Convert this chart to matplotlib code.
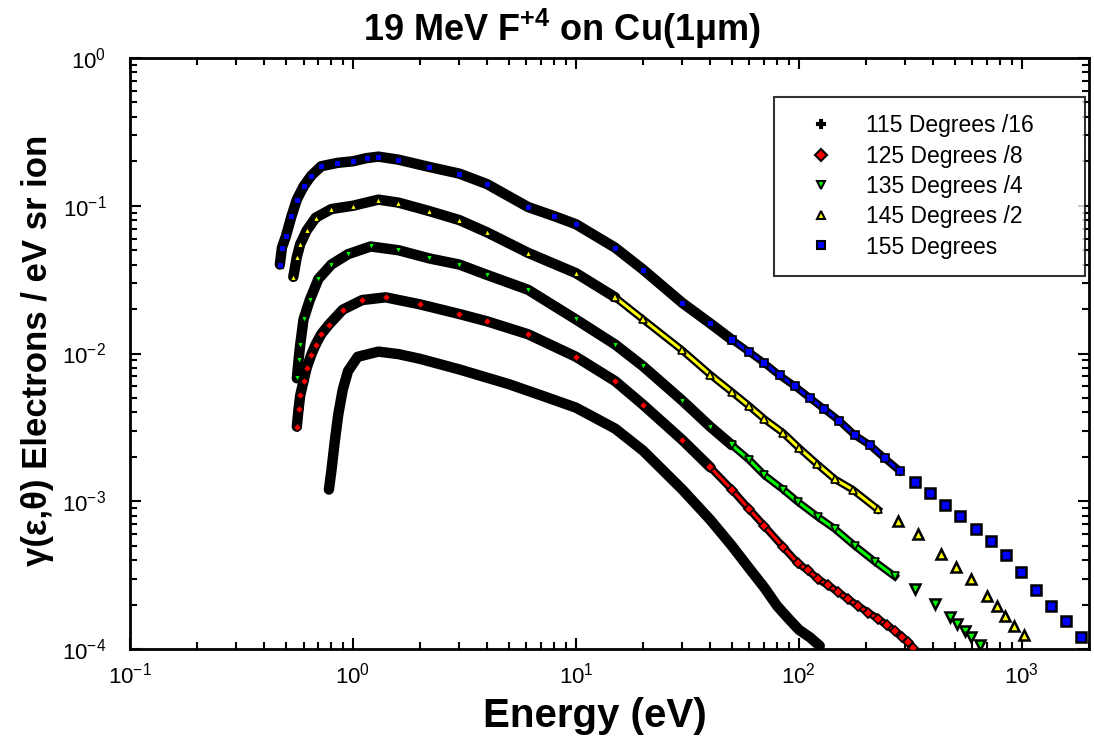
import numpy as np
import matplotlib
matplotlib.use("Agg")
import matplotlib.pyplot as plt
from matplotlib.lines import Line2D
from matplotlib.ticker import LogLocator, NullFormatter

plt.rcParams["font.family"] = ["Liberation Sans", "DejaVu Sans"]
plt.rcParams["mathtext.fontset"] = "custom"
plt.rcParams["mathtext.rm"] = "Liberation Sans"
plt.rcParams["mathtext.bf"] = "Liberation Sans:bold"
plt.rcParams["axes.unicode_minus"] = False

# --- data (energy in eV, yield) ---
labels = ["115 Degrees /16", "125 Degrees /8", "135 Degrees /4",
          "145 Degrees /2", "155 Degrees"]

e_115 = [0.78, 0.80, 0.83, 0.86, 0.90, 0.95, 1.05, 1.3, 1.6, 2.0, 3.0, 5.0, 7.0,
         10, 15, 20, 30, 40, 50, 60, 70, 80, 90, 100, 112, 124]
y_115 = [0.0012, 0.0016, 0.0026, 0.0039, 0.0057, 0.0076, 0.0095, 0.0103, 0.0099,
         0.0092, 0.0078, 0.0062, 0.0052, 0.0043, 0.0031, 0.0022, 0.0012, 0.00075,
         0.0005, 0.00035, 0.00026, 0.000195, 0.00016, 0.000135, 0.00012, 0.000105]

e_125 = [0.56, 0.57, 0.58, 0.60, 0.62, 0.65, 0.68, 0.72, 0.78, 0.90, 1.1, 1.4, 2.0,
         3.0, 4.0, 6.1, 10, 15, 20, 30, 40, 50, 60, 70, 85, 99, 110, 122, 135, 150,
         166, 185, 205, 227, 248, 271, 290, 309, 324]
y_125 = [0.0032, 0.0042, 0.0052, 0.0065, 0.0080, 0.0098, 0.0115, 0.0135, 0.0157,
         0.0198, 0.023, 0.024, 0.0215, 0.0185, 0.0165, 0.0135, 0.0095, 0.0065,
         0.0045, 0.0026, 0.0017, 0.0012, 0.00088, 0.00068, 0.00049, 0.00038,
         0.00034, 0.000297, 0.00027, 0.000243, 0.000218, 0.000195, 0.000176, 0.00016,
         0.000145, 0.000132, 0.000121, 0.000111, 0.000102]

e_135 = [0.56, 0.57, 0.58, 0.60, 0.64, 0.70, 0.80, 0.95, 1.2, 1.6, 2.2, 3.0, 4.0,
         6.1, 10, 15, 20, 30, 40, 50, 60, 70, 85, 99, 122, 145, 178, 219, 269, 330,
         406, 474, 514, 553, 589, 652]
y_135 = [0.0068, 0.009, 0.0115, 0.017, 0.023, 0.032, 0.040, 0.047, 0.053, 0.050,
         0.044, 0.040, 0.034, 0.027, 0.017, 0.0115, 0.0082, 0.0048, 0.0032, 0.0024,
         0.0019, 0.0015, 0.0012, 0.00099, 0.00078, 0.00065, 0.0005, 0.00039,
         0.00031, 0.000254, 0.000201, 0.000164, 0.000147, 0.000132, 0.00012,
         0.000106]

e_145 = [0.54, 0.56, 0.58, 0.62, 0.68, 0.80, 1.0, 1.3, 1.6, 2.2, 3.0, 4.0, 6.1, 10,
         15, 20, 30, 40, 50, 60, 70, 85, 100, 120, 145, 174, 226, 277, 341, 432, 504,
         589, 701, 777, 844, 925, 1026]
y_145 = [0.033, 0.045, 0.055, 0.068, 0.083, 0.095, 0.10, 0.11, 0.105, 0.092, 0.080,
         0.066, 0.048, 0.035, 0.024, 0.017, 0.0105, 0.0072, 0.0055, 0.0044, 0.0036,
         0.0029, 0.0023, 0.0018, 0.00141, 0.0012, 0.00088, 0.00073, 0.0006, 0.00044,
         0.00036, 0.000297, 0.000228, 0.000195, 0.000167, 0.000143, 0.000124]

e_155 = [0.47, 0.48, 0.50, 0.53, 0.56, 0.60, 0.65, 0.72, 0.85, 1.0, 1.15, 1.3, 1.6,
         2.2, 3.0, 4.0, 6.1, 8.0, 10, 15, 20, 30, 40, 50, 60, 70, 82, 96, 112, 130,
         152, 178, 208, 243, 284, 332, 388, 453, 530, 620, 725, 847, 990, 1160, 1350,
         1580, 1850]
y_155 = [0.040, 0.052, 0.062, 0.085, 0.11, 0.135, 0.16, 0.185, 0.195, 0.20, 0.21,
         0.215, 0.205, 0.183, 0.165, 0.14, 0.098, 0.085, 0.075, 0.052, 0.037, 0.022,
         0.016, 0.0124, 0.0102, 0.0086, 0.0071, 0.006, 0.005, 0.0042, 0.0035, 0.0028,
         0.0024, 0.00195, 0.0016, 0.00136, 0.00113, 0.00095, 0.00079, 0.00065,
         0.00054, 0.00043, 0.00033, 0.00025, 0.000195, 0.000155, 0.00012]

series = [(e_115, y_115), (e_125, y_125), (e_135, y_135), (e_145, y_145), (e_155, y_155)]
colors = ["#000000", "#ff0000", "#00ff00", "#ffff00", "#0000ff"]
markers = ["P", "D", "v", "^", "s"]
# energies where the thick black band turns into a coloured chain,
# and where the chain breaks up into separate markers
band_end = [124, 40, 50, 15, 50]
chain_end = [124, 330, 280, 226, 290]

W, H = 1094, 751
fig = plt.figure(figsize=(W / 100, H / 100), dpi=100)
ax = fig.add_axes([130 / W, 1 - 649 / H, (1089 - 130) / W, (649 - 58) / H])

for (e, y), c, m, b_end, c_end in zip(series, colors, markers, band_end, chain_end):
    e = np.asarray(e)
    y = np.asarray(y)
    band = e <= b_end
    chain = (e >= b_end) & (e <= c_end)
    tail = e > c_end
    ax.plot(e[band], y[band], color="black", lw=7.5, solid_capstyle="round",
            solid_joinstyle="round", zorder=2)
    ax.plot(e[band], y[band], ls="none", marker=m, ms=4, mfc=c, mec="black",
            mew=0.8, zorder=3)
    if chain.sum() > 1:
        ax.plot(e[chain], y[chain], color="black", lw=5.5, solid_joinstyle="round",
                zorder=2)
        ax.plot(e[chain], y[chain], color=c, lw=2.2, zorder=3)
        ax.plot(e[chain], y[chain], ls="none", marker=m, ms=5.5, mfc=c, mec="black",
                mew=1.2, zorder=4)
    ax.plot(e[tail], y[tail], ls="none", marker=m, ms=7, mfc=c, mec="black",
            mew=1.8, zorder=4)

ax.set_xscale("log")
ax.set_yscale("log")
ax.set_xlim(0.1, 2000)
ax.set_ylim(1e-4, 1)

ax.xaxis.set_major_locator(LogLocator(base=10, numticks=10))
ax.yaxis.set_major_locator(LogLocator(base=10, numticks=10))
for axis in (ax.xaxis, ax.yaxis):
    axis.set_minor_locator(LogLocator(base=10, subs=np.arange(2, 10), numticks=20))
    axis.set_minor_formatter(NullFormatter())

ax.tick_params(which="both", direction="in", top=True, right=True, width=1.5,
               labelsize=16, colors="black")
ax.tick_params(which="major", length=8)
ax.tick_params(which="minor", length=5)
ax.tick_params(axis="x", pad=10)
ax.tick_params(axis="y", pad=17)
for sp in ax.spines.values():
    sp.set_linewidth(2)

fig.text(562 / W, 1 - 29 / H, r"19 MeV F$^{\mathbf{+4}}$ on Cu(1μm)",
         ha="center", va="center", fontsize=26, fontweight="bold")
fig.text(595 / W, 1 - 716 / H, "Energy (eV)", ha="center", va="center",
         fontsize=29, fontweight="bold")
fig.text(38 / W, 1 - 350 / H, "γ(ε,θ) Electrons / eV sr ion", ha="center",
         va="center", rotation=90, fontsize=25, fontweight="bold")

handles = [Line2D([], [], ls="none", marker=m, ms=6, mfc=c, mec="black", mew=1.5)
           for c, m in zip(colors, markers)]
leg = ax.legend(handles, labels, loc="upper left", mode="expand",
                bbox_to_anchor=(774 / W, 1 - 276 / H, 311 / W, 179 / H),
                bbox_transform=fig.transFigure, fontsize=16.5, frameon=True,
                fancybox=False, borderpad=0.75, labelspacing=0.32,
                handlelength=2.6, handletextpad=0.65, borderaxespad=0)
leg.get_frame().set_edgecolor("black")
leg.get_frame().set_linewidth(1.5)

fig.savefig("out.png", dpi=100, facecolor="white")
